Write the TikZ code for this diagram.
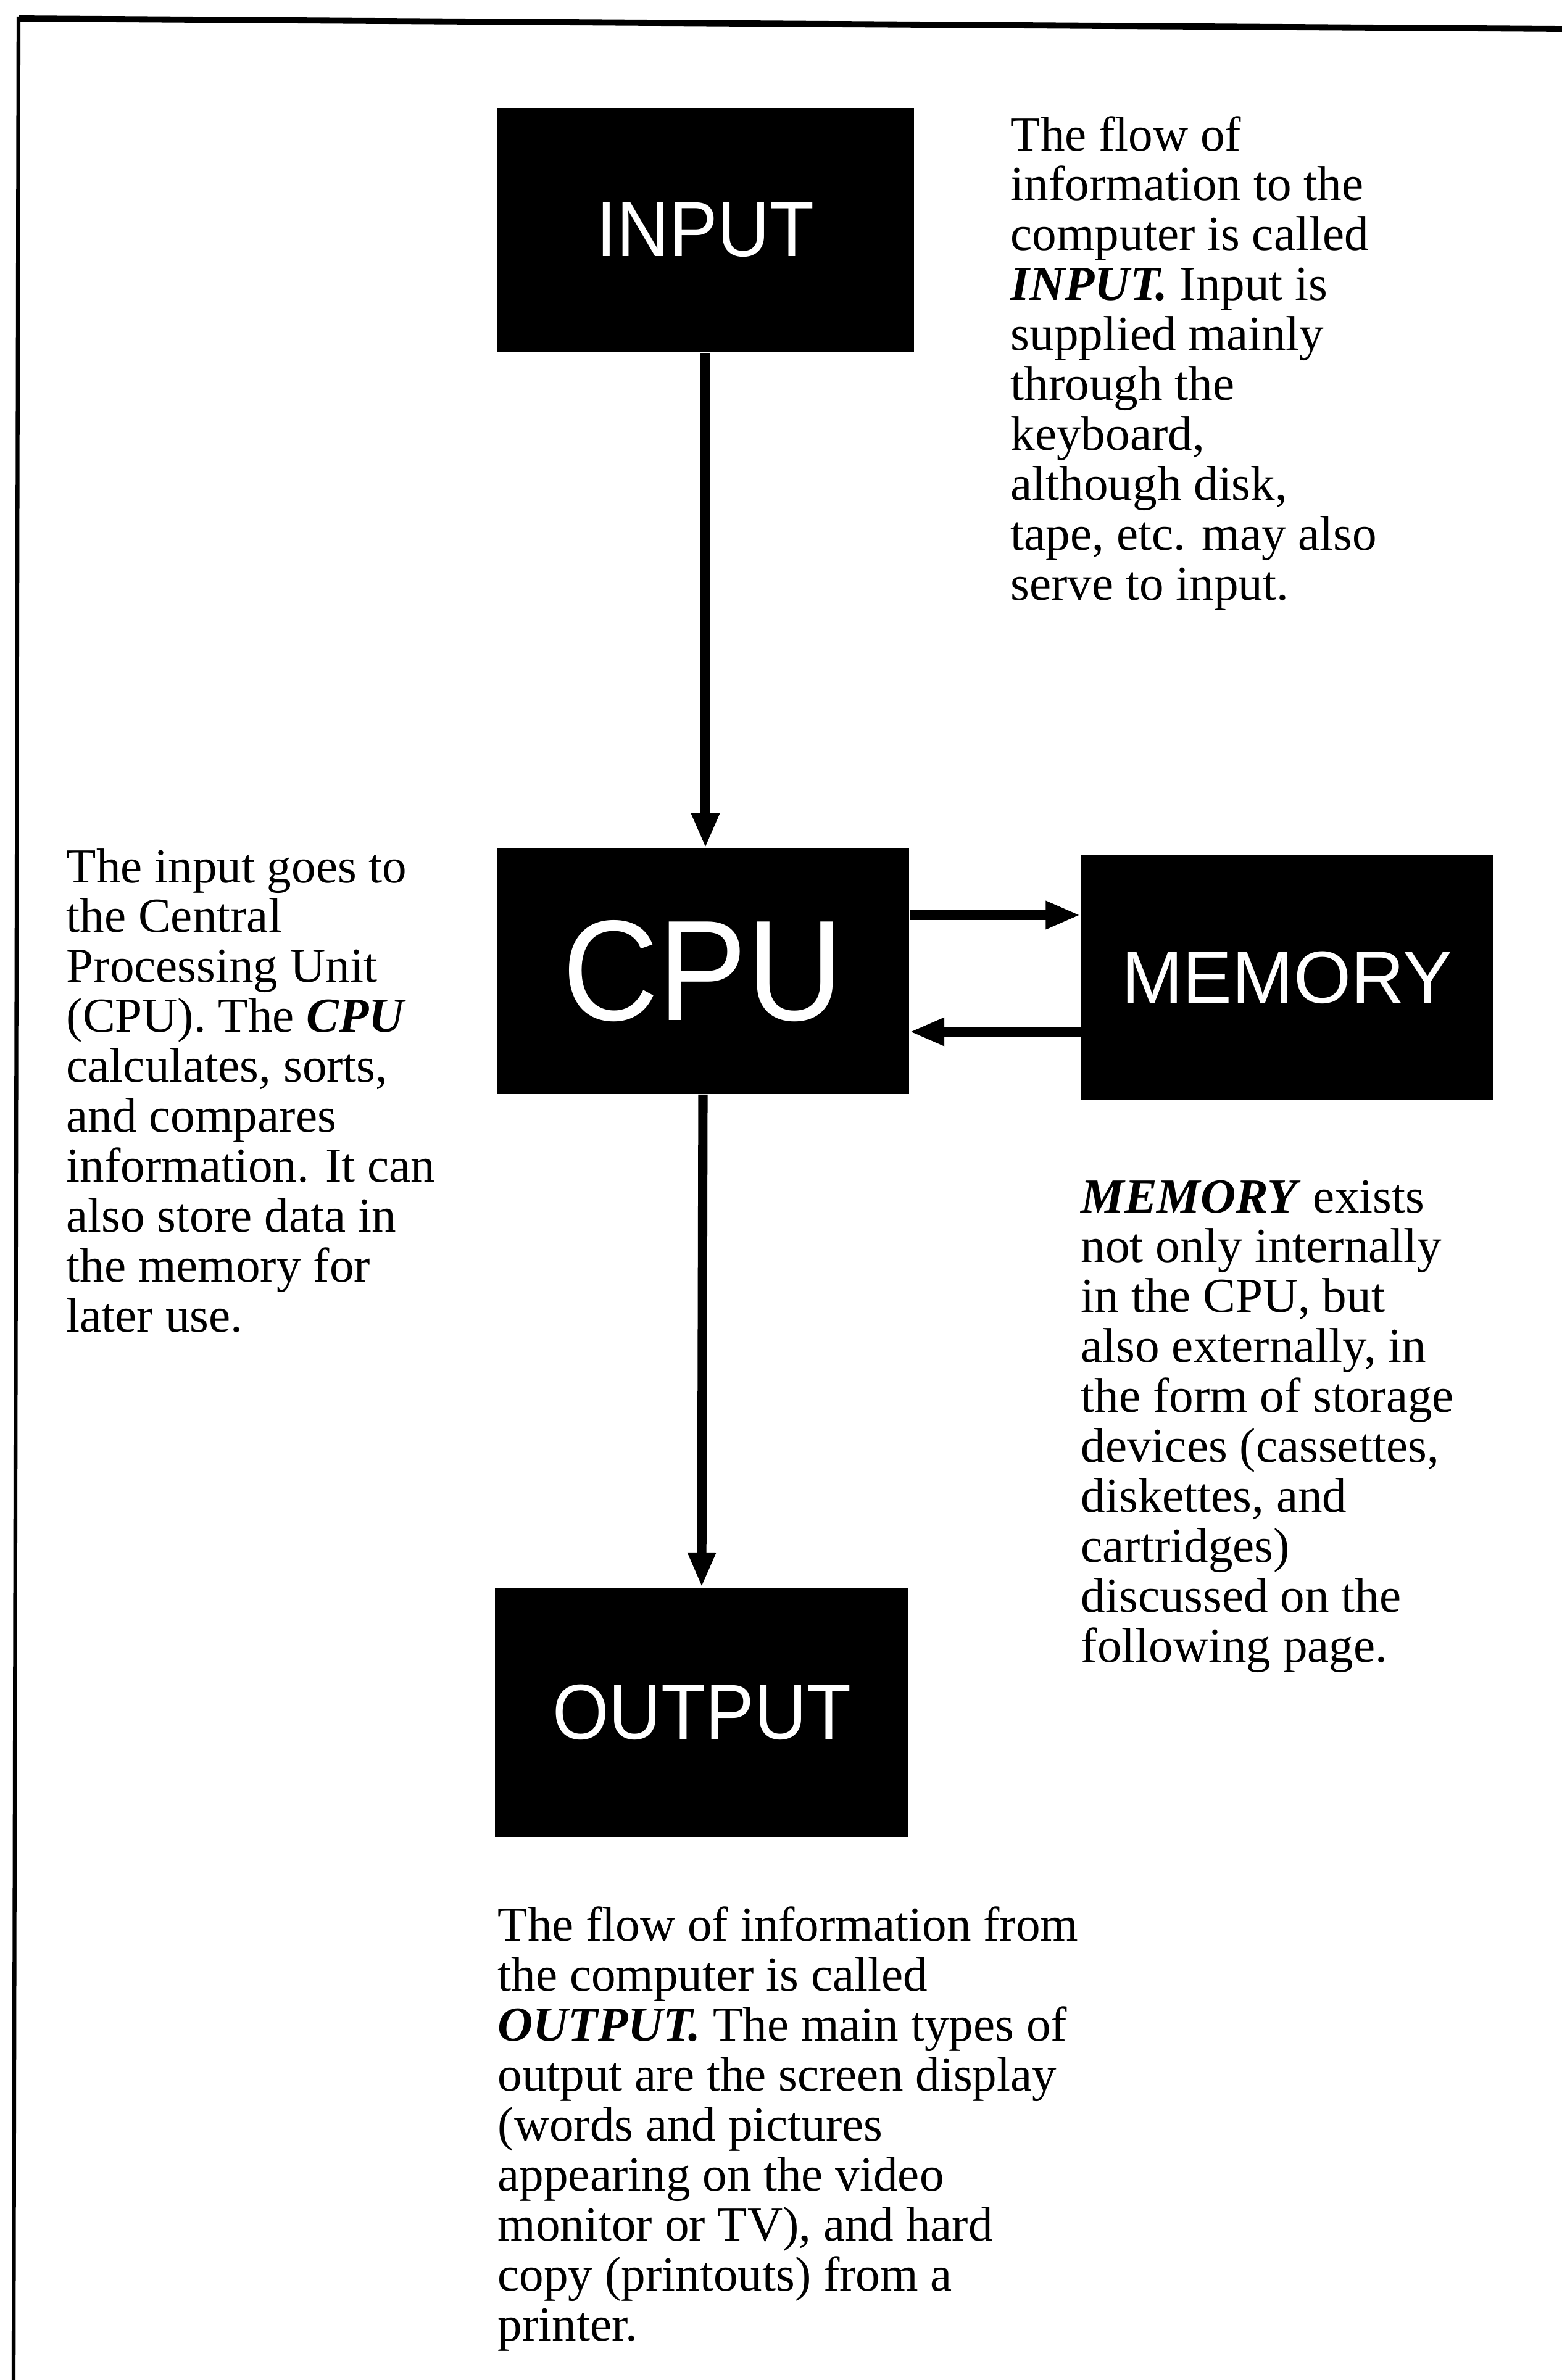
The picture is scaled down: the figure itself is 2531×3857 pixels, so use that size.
\documentclass[tikz,border=0pt]{standalone}
\usepackage{fontspec}
\setmainfont{Liberation Serif}
\newfontfamily\boxfont{Liberation Sans}
\newcommand{\narrow}[1]{\scalebox{0.93}[1]{#1}}
\usetikzlibrary{arrows.meta}

\begin{document}
\begin{tikzpicture}[x=0.01cm, y=-0.01cm,
  blok/.style={fill=black, text=white, inner sep=0pt, minimum width=6.7cm, minimum height=3.98cm},
  note/.style={anchor=base west, align=left, inner sep=0pt, font=\fontsize{22.5}{23}\selectfont},
  flow/.style={line width=4.3pt, -{Triangle[length=16pt,width=12pt]}}]
\useasboundingbox (0,0) rectangle (2531,3857);

% frame of the page
\draw[line width=2.8pt] (30,30) -- (2531,47);
\draw[line width=1.8pt] (30,27) -- (22,3857);

\node[blok, minimum width=6.75cm, minimum height=3.96cm, font=\boxfont\fontsize{36}{40}\selectfont] (input) at (1143,373) {\narrow{INPUT}};
\node[blok, minimum width=6.68cm, font=\boxfont\fontsize{66}{70}\selectfont] (cpu) at (1139,1574) {\narrow{CPU}};
\node[blok, minimum width=6.67cm, font=\boxfont\fontsize{34}{38}\selectfont] (mem) at (2085,1584) {MEMORY};
\node[blok, minimum width=6.69cm, minimum height=4.04cm, font=\boxfont\fontsize{36}{40}\selectfont] (output) at (1137,2775) {\narrow{OUTPUT}};

% base of a note = baseline of its last line
\node[note] (intext) at (1637,972) {The flow of\\information to the\\computer is called\\\textbf{\textit{INPUT.}} Input is\\supplied mainly\\through the\\keyboard,\\although disk,\\tape, etc. may also\\serve to input.};
\node[note] (cputext) at (107,2158) {The input goes to\\the Central\\Processing Unit\\(CPU). The \textbf{\textit{CPU}}\\calculates, sorts,\\and compares\\information. It can\\also store data in\\the memory for\\later use.};
\node[note] (memtext) at (1751,2693) {\textbf{\textit{MEMORY}} exists\\not only internally\\in the CPU, but\\also externally, in\\the form of storage\\devices (cassettes,\\diskettes, and\\cartridges)\\discussed on the\\following page.};
\node[note] (outtext) at (806,3793) {The flow of information from\\the computer is called\\\textbf{\textit{OUTPUT.}} The main types of\\output are the screen display\\(words and pictures\\appearing on the video\\monitor or TV), and hard\\copy (printouts) from a\\printer.};

\path[draw,flow] (input.south) -- (input.south |- cpu.north);
\path[draw,flow] ([yshift=0.91cm]cpu.east) -- ([yshift=0.91cm]cpu.east -| mem.west);
\path[draw,flow] ([yshift=-0.98cm]cpu.east -| mem.west) -- ([yshift=-0.98cm]cpu.east);
\path[draw,flow] (cpu.south) -- (output.north);
\end{tikzpicture}
\end{document}
